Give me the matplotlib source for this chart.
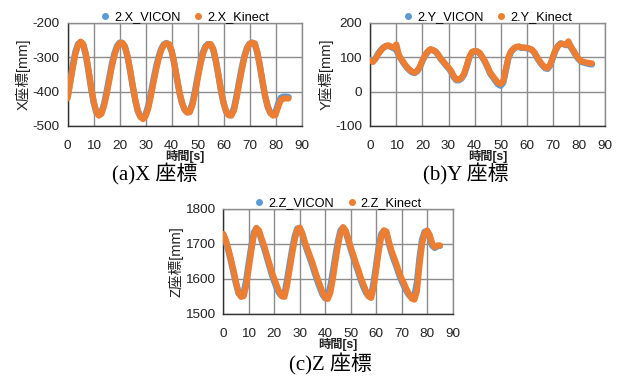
import matplotlib
matplotlib.use("Agg")
import matplotlib.pyplot as plt
from matplotlib.lines import Line2D
import numpy as np

plt.rcParams['font.family'] = ['Liberation Sans', 'Noto Sans CJK JP']
plt.rcParams['axes.unicode_minus'] = False

# time axis, one reading per second
t = np.arange(0, 86)

x_kinect = [-420, -375, -330, -290, -265, -255, -262, -290, -335, -385,
            -428, -458, -470, -465, -442, -408, -368, -328, -295, -272,
            -260, -258, -268, -295, -335, -380, -422, -455, -474, -480,
            -472, -450, -415, -375, -338, -305, -280, -265, -260, -262,
            -280, -315, -358, -400, -432, -452, -461, -460, -440, -405,
            -365, -325, -292, -272, -263, -262, -275, -308, -350, -395,
            -432, -458, -469, -470, -455, -420, -378, -338, -302, -276,
            -262, -258, -260, -285, -325, -370, -412, -443, -462, -470,
            -468, -445, -425, -420, -420, -420]
x_vicon = [-415, -368, -322, -284, -262, -256, -265, -295, -340, -390,
           -432, -460, -468, -460, -436, -400, -360, -320, -289, -268,
           -258, -259, -270, -298, -338, -384, -425, -457, -473, -476,
           -466, -442, -406, -366, -330, -299, -276, -263, -259, -264,
           -283, -318, -361, -403, -434, -453, -460, -456, -434, -398,
           -357, -318, -287, -269, -262, -263, -278, -311, -353, -398,
           -434, -459, -468, -466, -448, -412, -370, -331, -297, -273,
           -261, -258, -262, -288, -328, -373, -415, -445, -462, -466,
           -460, -435, -418, -415, -415, -416]

y_kinect = [90, 86, 95, 108, 118, 127, 133, 134, 130, 128,
            137, 105, 93, 82, 72, 64, 58, 55, 60, 72,
            90, 105, 116, 123, 121, 117, 108, 96, 88, 78,
            70, 60, 45, 35, 35, 40, 52, 75, 100, 115,
            118, 117, 112, 100, 88, 72, 55, 45, 35, 25,
            22, 30, 65, 100, 117, 125, 130, 131, 128, 128,
            127, 125, 122, 113, 100, 88, 78, 70, 68, 78,
            100, 120, 132, 139, 138, 136, 146, 130, 118, 105,
            95, 88, 86, 84, 83, 82]
y_vicon = [92, 88, 96, 110, 120, 128, 132, 133, 129, 126,
           122, 104, 92, 80, 70, 62, 56, 54, 59, 71,
           89, 104, 115, 122, 120, 116, 107, 95, 86, 76,
           68, 57, 42, 33, 33, 38, 50, 73, 99, 114,
           117, 116, 111, 99, 86, 70, 52, 42, 31, 21,
           17, 26, 62, 98, 116, 124, 129, 130, 127, 127,
           126, 124, 121, 112, 98, 86, 76, 68, 66, 76,
           98, 119, 133, 140, 138, 135, 137, 128, 116, 103,
           93, 86, 84, 82, 80, 79]

z_kinect = [1728, 1710, 1685, 1655, 1625, 1590, 1560, 1548, 1550, 1580,
            1630, 1680, 1725, 1745, 1738, 1715, 1695, 1670, 1645, 1620,
            1600, 1580, 1562, 1550, 1548, 1580, 1625, 1670, 1710, 1740,
            1746, 1730, 1705, 1685, 1665, 1645, 1622, 1600, 1580, 1560,
            1545, 1542, 1560, 1600, 1650, 1695, 1730, 1747, 1738, 1715,
            1690, 1668, 1645, 1625, 1602, 1583, 1565, 1550, 1545, 1575,
            1625, 1680, 1720, 1738, 1735, 1705, 1680, 1660, 1640, 1618,
            1600, 1585, 1568, 1555, 1543, 1540, 1565, 1640, 1700, 1730,
            1738, 1725, 1700, 1690, 1695, 1695]
z_vicon = [1726, 1706, 1680, 1650, 1618, 1585, 1558, 1550, 1560, 1595,
           1645, 1692, 1732, 1744, 1734, 1710, 1688, 1663, 1638, 1613,
           1592, 1573, 1558, 1550, 1556, 1595, 1640, 1683, 1720, 1743,
           1744, 1726, 1700, 1678, 1658, 1637, 1614, 1592, 1572, 1554,
           1544, 1550, 1578, 1620, 1665, 1707, 1738, 1746, 1734, 1710,
           1684, 1662, 1639, 1618, 1595, 1576, 1560, 1550, 1552, 1590,
           1640, 1692, 1728, 1737, 1730, 1699, 1674, 1653, 1633, 1611,
           1593, 1578, 1563, 1552, 1545, 1552, 1590, 1660, 1712, 1734,
           1735, 1718, 1694, 1688, 1693, 1694]

BLUE = '#5B9BD5'
ORANGE = '#ED7D31'
GRID = '#8c8c8c'
JP = ['Liberation Sans', 'Noto Sans CJK JP']

panels = [
    # rect, vicon, kinect, ylim, yticks, axis letter, caption, caption pos
    ([0.1088, 0.6649, 0.376, 0.2747], x_vicon, x_kinect, (-500, -200),
     [-500, -400, -300, -200], 'X', '(a)X 座標', (155, 174)),
    ([0.5953, 0.6649, 0.3773, 0.2747], y_vicon, y_kinect, (-100, 200),
     [-100, 0, 100, 200], 'Y', '(b)Y 座標', (466, 174)),
    ([0.359, 0.1657, 0.3688, 0.2793], z_vicon, z_kinect, (1500, 1800),
     [1500, 1600, 1700, 1800], 'Z', '(c)Z 座標', (330, 364)),
]

fig = plt.figure(figsize=(6.22, 3.76), dpi=100)

for rect, vic, kin, ylim, yticks, ax_name, caption, cpos in panels:
    ax = fig.add_axes(rect)
    ax.plot(t, vic, color=BLUE, lw=4.6, solid_capstyle='round', zorder=3)
    ax.plot(t, kin, color=ORANGE, lw=4.4, solid_capstyle='round', zorder=4)
    ax.set_xlim(0, 90)
    ax.set_ylim(*ylim)
    ax.set_xticks(range(0, 91, 10))
    ax.set_yticks(yticks)
    ax.grid(True, color=GRID, lw=1.0)
    ax.set_axisbelow(True)
    for s in ax.spines.values():
        s.set_color(GRID)
        s.set_linewidth(1.0)
    ax.spines['left'].set_color('#303030')
    ax.spines['bottom'].set_color('#303030')
    ax.tick_params(length=0, labelsize=9.7, colors='#222222')
    ax.tick_params(axis='x', pad=10)
    ax.tick_params(axis='y', pad=6)
    ax.set_xlabel('時間[s]', fontsize=8.8, fontweight='bold', family=JP,
                  labelpad=-1, color='#222222')
    ax.set_ylabel(ax_name + '座標[mm]', fontsize=10.5, family=JP, labelpad=1,
                  color='#222222')

    handles = [Line2D([], [], ls='none', marker='o', ms=4, color=BLUE),
               Line2D([], [], ls='none', marker='o', ms=4, color=ORANGE)]
    ax.legend(handles, ['2.%s_VICON' % ax_name, '2.%s_Kinect' % ax_name],
              loc='lower center', bbox_to_anchor=(0.5, 0.92), ncol=2,
              frameon=False, fontsize=9.2, handlelength=0.8,
              handletextpad=0.3, columnspacing=1.0, borderpad=0.1)

    fig.text(cpos[0] / 622, 1 - cpos[1] / 376, caption, ha='center',
             va='center', fontsize=15,
             family=['Liberation Serif', 'Noto Sans CJK JP'])

fig.savefig('out.png', dpi=100, facecolor='white')
